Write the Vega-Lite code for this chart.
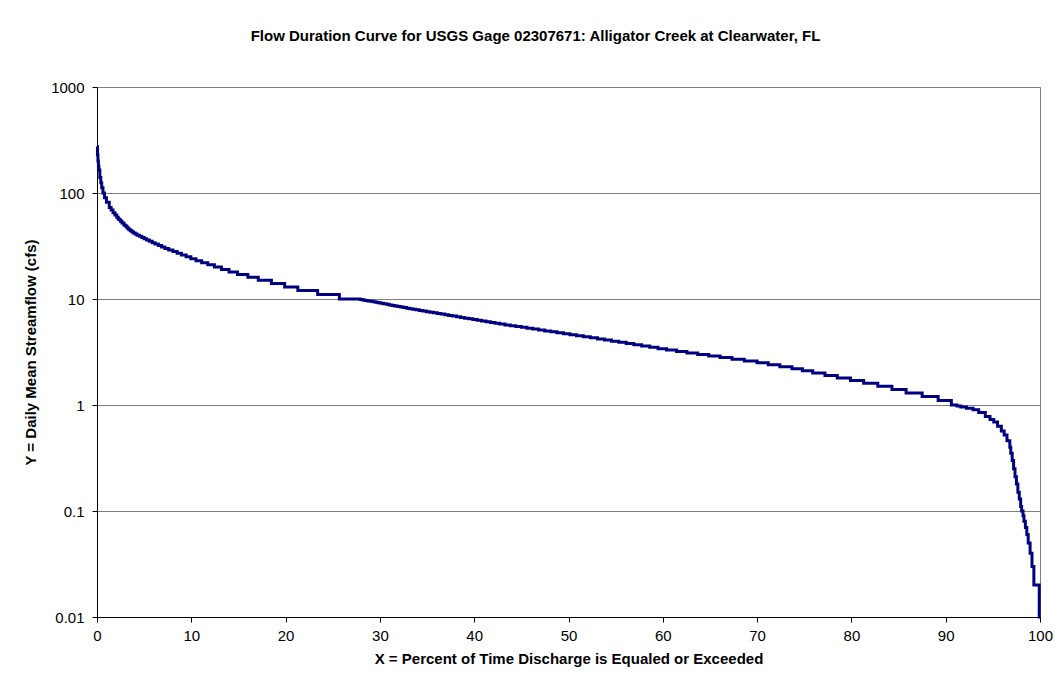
{
  "$schema": "https://vega.github.io/schema/vega-lite/v6.json",
  "autosize": {"type": "none"},
  "padding": {"left": 97, "top": 87, "right": 17, "bottom": 70},
  "width": 943,
  "height": 530,
  "background": "white",
  "title": {
    "text": "Flow Duration Curve for USGS Gage 02307671: Alligator Creek at Clearwater, FL",
    "font": "Liberation Sans",
    "fontSize": 15,
    "fontWeight": "bold",
    "color": "black",
    "anchor": "middle",
    "frame": "group",
    "dx": -33,
    "offset": 36
  },
  "data": {
    "values": [
      {"pct": 0, "cfs": 275}, {"pct": 0.05, "cfs": 230}, {"pct": 0.1, "cfs": 200}, {"pct": 0.15, "cfs": 180},
      {"pct": 0.2, "cfs": 165}, {"pct": 0.3, "cfs": 140}, {"pct": 0.4, "cfs": 125}, {"pct": 0.5, "cfs": 112},
      {"pct": 0.63, "cfs": 100}, {"pct": 0.8, "cfs": 90}, {"pct": 1.0, "cfs": 82}, {"pct": 1.3, "cfs": 73},
      {"pct": 1.5, "cfs": 69}, {"pct": 1.7, "cfs": 65}, {"pct": 1.9, "cfs": 62}, {"pct": 2.1, "cfs": 59},
      {"pct": 2.25, "cfs": 57}, {"pct": 2.35, "cfs": 56}, {"pct": 2.5, "cfs": 54}, {"pct": 2.65, "cfs": 52},
      {"pct": 2.85, "cfs": 50}, {"pct": 3.0, "cfs": 49}, {"pct": 3.1, "cfs": 48}, {"pct": 3.2, "cfs": 47},
      {"pct": 3.3, "cfs": 46}, {"pct": 3.4, "cfs": 45}, {"pct": 3.55, "cfs": 44}, {"pct": 3.7, "cfs": 43},
      {"pct": 3.85, "cfs": 42}, {"pct": 4.05, "cfs": 41}, {"pct": 4.25, "cfs": 40}, {"pct": 4.5, "cfs": 39},
      {"pct": 4.75, "cfs": 38}, {"pct": 5.0, "cfs": 37}, {"pct": 5.25, "cfs": 36}, {"pct": 5.55, "cfs": 35},
      {"pct": 5.85, "cfs": 34}, {"pct": 6.15, "cfs": 33}, {"pct": 6.5, "cfs": 32}, {"pct": 6.85, "cfs": 31},
      {"pct": 7.2, "cfs": 30}, {"pct": 7.6, "cfs": 29}, {"pct": 8.05, "cfs": 28}, {"pct": 8.5, "cfs": 27},
      {"pct": 8.95, "cfs": 26}, {"pct": 9.45, "cfs": 25}, {"pct": 9.95, "cfs": 24}, {"pct": 10.5, "cfs": 23},
      {"pct": 11.1, "cfs": 22}, {"pct": 11.75, "cfs": 21}, {"pct": 12.45, "cfs": 20}, {"pct": 13.2, "cfs": 19},
      {"pct": 14.0, "cfs": 18}, {"pct": 14.9, "cfs": 17}, {"pct": 16.0, "cfs": 16}, {"pct": 17.1, "cfs": 15},
      {"pct": 18.5, "cfs": 14}, {"pct": 19.9, "cfs": 13}, {"pct": 21.3, "cfs": 12}, {"pct": 23.4, "cfs": 11},
      {"pct": 25.7, "cfs": 10},
      {"pct": 27.9, "cfs": 9.9}, {"pct": 28.17, "cfs": 9.8}, {"pct": 28.43, "cfs": 9.7}, {"pct": 28.71, "cfs": 9.6},
      {"pct": 28.98, "cfs": 9.5}, {"pct": 29.26, "cfs": 9.4}, {"pct": 29.54, "cfs": 9.3}, {"pct": 29.82, "cfs": 9.2},
      {"pct": 30.1, "cfs": 9.1}, {"pct": 30.39, "cfs": 9.0}, {"pct": 30.69, "cfs": 8.9}, {"pct": 30.98, "cfs": 8.8},
      {"pct": 31.28, "cfs": 8.7}, {"pct": 31.58, "cfs": 8.6}, {"pct": 31.89, "cfs": 8.5}, {"pct": 32.2, "cfs": 8.4},
      {"pct": 32.51, "cfs": 8.3}, {"pct": 32.83, "cfs": 8.2}, {"pct": 33.15, "cfs": 8.1}, {"pct": 33.48, "cfs": 8.0},
      {"pct": 33.8, "cfs": 7.9}, {"pct": 34.17, "cfs": 7.8}, {"pct": 34.54, "cfs": 7.7}, {"pct": 34.92, "cfs": 7.6},
      {"pct": 35.3, "cfs": 7.5}, {"pct": 35.68, "cfs": 7.4}, {"pct": 36.08, "cfs": 7.3}, {"pct": 36.47, "cfs": 7.2},
      {"pct": 36.88, "cfs": 7.1}, {"pct": 37.28, "cfs": 7.0}, {"pct": 37.7, "cfs": 6.9}, {"pct": 38.12, "cfs": 6.8},
      {"pct": 38.55, "cfs": 6.7}, {"pct": 38.98, "cfs": 6.6}, {"pct": 39.42, "cfs": 6.5}, {"pct": 39.86, "cfs": 6.4},
      {"pct": 40.32, "cfs": 6.3}, {"pct": 40.78, "cfs": 6.2}, {"pct": 41.25, "cfs": 6.1}, {"pct": 41.72, "cfs": 6.0},
      {"pct": 42.21, "cfs": 5.9}, {"pct": 42.7, "cfs": 5.8}, {"pct": 43.26, "cfs": 5.7}, {"pct": 43.83, "cfs": 5.6},
      {"pct": 44.41, "cfs": 5.5}, {"pct": 45.0, "cfs": 5.4}, {"pct": 45.6, "cfs": 5.3}, {"pct": 46.21, "cfs": 5.2},
      {"pct": 46.83, "cfs": 5.1}, {"pct": 47.47, "cfs": 5.0}, {"pct": 48.12, "cfs": 4.9}, {"pct": 48.78, "cfs": 4.8},
      {"pct": 49.46, "cfs": 4.7}, {"pct": 50.15, "cfs": 4.6}, {"pct": 50.85, "cfs": 4.5}, {"pct": 51.57, "cfs": 4.4},
      {"pct": 52.31, "cfs": 4.3}, {"pct": 53.07, "cfs": 4.2}, {"pct": 53.81, "cfs": 4.1}, {"pct": 54.56, "cfs": 4.0},
      {"pct": 55.33, "cfs": 3.9}, {"pct": 56.12, "cfs": 3.8}, {"pct": 56.93, "cfs": 3.7}, {"pct": 57.76, "cfs": 3.6},
      {"pct": 58.61, "cfs": 3.5}, {"pct": 59.49, "cfs": 3.4}, {"pct": 60.4, "cfs": 3.3}, {"pct": 61.46, "cfs": 3.2},
      {"pct": 62.56, "cfs": 3.1}, {"pct": 63.7, "cfs": 3.0}, {"pct": 64.87, "cfs": 2.9}, {"pct": 66.08, "cfs": 2.8},
      {"pct": 67.34, "cfs": 2.7}, {"pct": 68.64, "cfs": 2.6}, {"pct": 70.0, "cfs": 2.5}, {"pct": 71.18, "cfs": 2.4},
      {"pct": 72.41, "cfs": 2.3}, {"pct": 73.7, "cfs": 2.2}, {"pct": 74.8, "cfs": 2.1}, {"pct": 75.9, "cfs": 2.0},
      {"pct": 77.2, "cfs": 1.9}, {"pct": 78.5, "cfs": 1.8}, {"pct": 79.9, "cfs": 1.7}, {"pct": 81.3, "cfs": 1.6},
      {"pct": 82.8, "cfs": 1.5}, {"pct": 84.3, "cfs": 1.4}, {"pct": 85.8, "cfs": 1.3}, {"pct": 87.5, "cfs": 1.2},
      {"pct": 89.2, "cfs": 1.1}, {"pct": 90.6, "cfs": 1.0}, {"pct": 91.2, "cfs": 0.98}, {"pct": 91.6, "cfs": 0.96},
      {"pct": 92.2, "cfs": 0.93}, {"pct": 92.9, "cfs": 0.9}, {"pct": 93.5, "cfs": 0.85}, {"pct": 94.2, "cfs": 0.78},
      {"pct": 94.7, "cfs": 0.73}, {"pct": 95.1, "cfs": 0.69}, {"pct": 95.5, "cfs": 0.63}, {"pct": 95.9, "cfs": 0.57},
      {"pct": 96.2, "cfs": 0.52}, {"pct": 96.5, "cfs": 0.46}, {"pct": 96.8, "cfs": 0.4}, {"pct": 96.9, "cfs": 0.35},
      {"pct": 97.05, "cfs": 0.3}, {"pct": 97.2, "cfs": 0.25}, {"pct": 97.35, "cfs": 0.21}, {"pct": 97.5, "cfs": 0.18},
      {"pct": 97.65, "cfs": 0.15}, {"pct": 97.8, "cfs": 0.13}, {"pct": 97.95, "cfs": 0.11}, {"pct": 98.05, "cfs": 0.1},
      {"pct": 98.2, "cfs": 0.09}, {"pct": 98.3, "cfs": 0.08}, {"pct": 98.45, "cfs": 0.07}, {"pct": 98.6, "cfs": 0.06},
      {"pct": 98.75, "cfs": 0.05}, {"pct": 98.95, "cfs": 0.04}, {"pct": 99.15, "cfs": 0.03}, {"pct": 99.35, "cfs": 0.02},
      {"pct": 99.92, "cfs": 0.01}, {"pct": 100, "cfs": 0.01}
    ]
  },
  "mark": {"type": "line", "interpolate": "step-after", "color": "#000080", "strokeWidth": 3, "clip": false},
  "encoding": {
    "x": {
      "field": "pct",
      "type": "quantitative",
      "scale": {"domain": [0, 100], "nice": false, "zero": false},
      "axis": {
        "title": "X = Percent of Time Discharge is Equaled or Exceeded",
        "values": [0, 10, 20, 30, 40, 50, 60, 70, 80, 90, 100],
        "grid": false,
        "labelPadding": 6,
        "titlePadding": 8
      }
    },
    "y": {
      "field": "cfs",
      "type": "quantitative",
      "scale": {"type": "log", "domain": [0.01, 1000], "nice": false},
      "axis": {
        "title": "Y = Daily Mean Streamflow (cfs)",
        "values": [0.01, 0.1, 1, 10, 100, 1000],
        "format": "~g",
        "grid": true,
        "labelPadding": 8,
        "titlePadding": 12
      }
    }
  },
  "config": {
    "view": {"stroke": "#808080", "strokeWidth": 1},
    "axis": {
      "labelFont": "Liberation Sans",
      "labelFontSize": 15,
      "labelColor": "black",
      "titleFont": "Liberation Sans",
      "titleFontSize": 15,
      "titleFontWeight": "bold",
      "titleColor": "black",
      "domainColor": "black",
      "domainWidth": 1,
      "tickColor": "black",
      "tickSize": 5,
      "gridColor": "#808080",
      "gridWidth": 1,
      "gridOpacity": 1,
      "labelFlush": false,
      "labelOverlap": false
    }
  }
}
